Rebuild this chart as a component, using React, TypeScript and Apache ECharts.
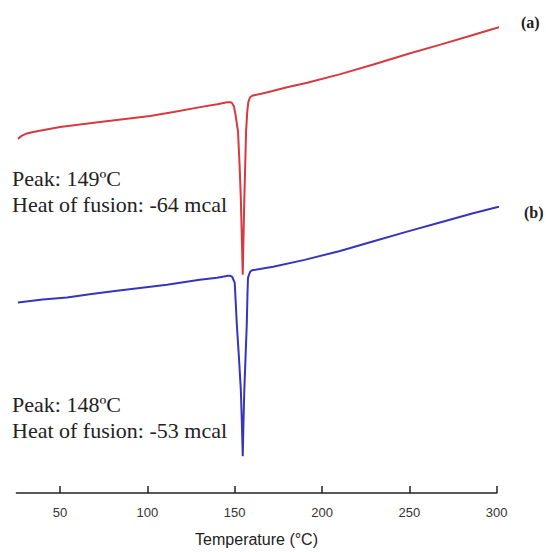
import React, { useEffect, useRef } from "react";
import * as echarts from "echarts";

// Temperature (°C) and heat-flow (arbitrary units)
const curveA: [number, number][] = [
  [25.9, 357], [28, 360], [31, 362.5], [34.5, 364], [50, 369], [72.9, 374], [101.5, 380],
  [115, 384], [130.2, 389], [140, 392], [145.6, 394], [147.5, 394], [148.5, 393], [149.5, 390],
  [150.5, 381], [151.9, 364], [152.8, 330], [153.5, 297], [154.1, 255], [154.6, 220],
  [155.0, 255], [155.5, 297], [156.0, 330], [156.5, 364], [157.2, 385], [157.8, 394],
  [158.8, 399], [160, 400.5], [164.6, 402.3], [170, 404.5], [180, 409], [191.5, 413.5],
  [210, 422], [229.4, 432], [250, 443], [267.8, 452], [285, 461], [296.4, 467],
  [305, 471.5], [309, 474], [311.9, 477],
];

const curveB: [number, number][] = [
  [25.9, 192], [40, 195], [54, 197], [68, 200.5], [82.6, 204], [111.2, 210], [130, 215],
  [139.9, 217], [146.2, 219], [147.5, 219], [148.5, 218], [150.0, 212], [151.2, 170], [152.4, 137],
  [153.5, 104], [154.1, 70], [154.6, 37], [155.0, 70], [155.5, 104], [156.2, 137],
  [156.9, 170], [157.3, 200], [157.6, 217], [158.8, 223], [159.9, 224.5], [172, 228],
  [190, 235], [210.3, 244], [230, 254], [248.7, 263.5], [268, 273], [286.5, 282],
  [300, 288], [311.7, 293],
];

const xTicks = [50, 100, 150, 200, 250, 300];
const notesA = ["Peak: 149ºC", "Heat of fusion: -64 mcal"];
const notesB = ["Peak: 148ºC", "Heat of fusion: -53 mcal"];
const seriesLabels = ["(a)", "(b)"];

export default function App() {
  const ref = useRef<HTMLDivElement>(null);
  useEffect(() => {
    if (!ref.current) return;
    const chart = echarts.init(ref.current, undefined, { renderer: "svg" });
    const serif = "'Liberation Serif', 'DejaVu Serif', serif";
    const note = (t: string, x: number, y: number) => ({
      type: "text",
      x,
      y,
      style: { text: t, font: `22px ${serif}`, fill: "#222", verticalAlign: "middle" },
    });
    chart.setOption({
      animation: false,
      backgroundColor: "#ffffff",
      grid: { left: 16.4, right: 49.3, top: 0, bottom: 55, containLabel: false },
      xAxis: {
        type: "value",
        min: 25,
        max: 300,
        name: "Temperature (°C)",
        nameLocation: "middle",
        nameGap: 38,
        nameTextStyle: { fontFamily: "'Liberation Sans', Arial, sans-serif", fontSize: 16, color: "#222" },
        axisLine: { show: true, lineStyle: { color: "#222", width: 1.5 } },
        axisTick: { show: true, inside: true, length: 7, customValues: xTicks, lineStyle: { color: "#222", width: 1.5 } },
        axisLabel: {
          fontFamily: "'Liberation Sans', Arial, sans-serif",
          fontSize: 13,
          color: "#333",
          margin: 13,
          customValues: xTicks,
        },
        splitLine: { show: false },
      },
      yAxis: {
        type: "value",
        min: 0,
        max: 497,
        show: false,
        splitLine: { show: false },
      },
      series: [
        {
          type: "line",
          data: curveA,
          clip: false,
          symbol: "none",
          smooth: false,
          lineStyle: { color: "#d63a3e", width: 2 },
        },
        {
          type: "line",
          data: curveB,
          clip: false,
          symbol: "none",
          smooth: false,
          lineStyle: { color: "#3636bd", width: 2 },
        },
      ],
      graphic: [
        note(notesA[0], 12, 178),
        note(notesA[1], 12, 204),
        note(notesB[0], 12, 404),
        note(notesB[1], 12, 430),
        {
          type: "text",
          x: 521,
          y: 22,
          style: { text: seriesLabels[0], font: `bold 16px ${serif}`, fill: "#222", verticalAlign: "middle" },
        },
        {
          type: "text",
          x: 524,
          y: 212,
          style: { text: seriesLabels[1], font: `bold 16px ${serif}`, fill: "#222", verticalAlign: "middle" },
        },
      ],
    });
    return () => chart.dispose();
  }, []);
  return <div ref={ref} style={{ width: 546, height: 552, position: "absolute", left: 0, top: 0 }} />;
}
